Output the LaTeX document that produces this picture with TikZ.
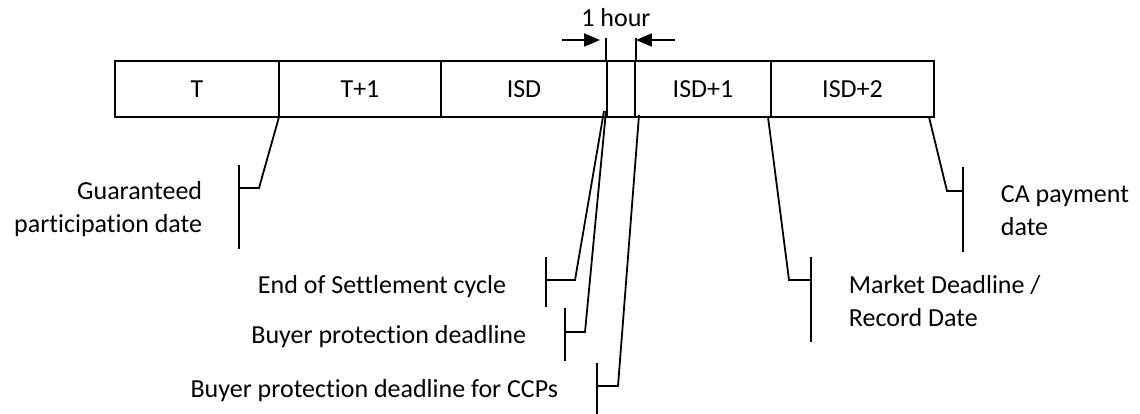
\documentclass[tikz,border=0pt]{standalone}
\usepackage{fontspec}
\setmainfont{Carlito}[Ligatures={NoCommon}]
\usetikzlibrary{arrows.meta}
\begin{document}
\begin{tikzpicture}[x=1pt,y=-1pt,
  line width=1.8pt,
  every node/.style={font=\fontsize{26}{33}\selectfont},
  cell/.style={draw, rectangle, minimum height=56pt, inner sep=0pt, text height=16.7pt, text depth=0pt},
  lbl/.style={inner sep=0pt},
  harrow/.style={-{Triangle[length=16pt,width=13pt]}}
]
\useasboundingbox (0,0) rectangle (1140,414);
% timeline cells
\node[cell, minimum width=164pt] (t)    at (197,89)   {T};
\node[cell, minimum width=162pt] (t1)   at (360,89)   {T+1};
\node[cell, minimum width=166pt] (isd)  at (524,89)   {ISD};
\node[cell, minimum width=28pt]  (gap)  at (621,89)   {};
\node[cell, minimum width=136pt] (isd1) at (703,89)   {ISD+1};
\node[cell, minimum width=163pt] (isd2) at (852.5,89) {ISD+2};
% one hour marker
\draw (gap.north west) -- ++(0,-22) coordinate (gwt);
\draw (gap.north east) -- ++(0,-22) coordinate (get);
\node[lbl, anchor=base] (hour) at (616,27) {1 hour};
\coordinate (al) at (562,40);
\coordinate (ar) at (675,40);
\draw[harrow] (al) -- ([xshift=-6pt]gap.north west |- al);
\draw[harrow] (ar) -- (gap.north east |- ar);
% leader coordinates
\coordinate (g0) at (279,117); \coordinate (g1) at (259,188); \coordinate (g2) at (239,188);
\coordinate (gt) at (239,165); \coordinate (gb) at (239,249);
\coordinate (e0) at (604,111); \coordinate (e1) at (575,280); \coordinate (e2) at (546,280);
\coordinate (et) at (546,257); \coordinate (eb) at (546,307);
\coordinate (b0) at (606,111); \coordinate (b1) at (585,332); \coordinate (b2) at (565,332);
\coordinate (bt) at (565,308); \coordinate (bb) at (565,361);
\coordinate (c0) at (639,115); \coordinate (c1) at (618,386); \coordinate (c2) at (597,386);
\coordinate (ct) at (597,363); \coordinate (cb) at (597,414);
\coordinate (m0) at (768,117); \coordinate (m1) at (789,280); \coordinate (m2) at (811,280);
\coordinate (mt) at (811,257); \coordinate (mb) at (811,342);
\coordinate (p0) at (929,117); \coordinate (p1) at (947,191); \coordinate (p2) at (963,191);
\coordinate (pt) at (963,167); \coordinate (pb) at (963,252);
% leaders and brackets
\draw (g0) -- (g1) -- (g2); \draw (gt) -- (gb);
\draw (e0) -- (e1) -- (e2); \draw (et) -- (eb);
\draw (b0) -- (b1) -- (b2); \draw (bt) -- (bb);
\draw (c0) -- (c1) -- (c2); \draw (ct) -- (cb);
\draw (m0) -- (m1) -- (m2); \draw (mt) -- (mb);
\draw (p0) -- (p1) -- (p2); \draw (pt) -- (pb);
% labels
\node[lbl, align=right, anchor=east] (lg) at (203,209.9) {\strut Guaranteed\\\strut participation date};
\node[lbl, anchor=east] (le) at (507,286.4) {\strut End of Settlement cycle};
\node[lbl, anchor=east] (lb) at (527,336.4) {\strut Buyer protection deadline};
\node[lbl, anchor=east] (lc) at (559,390.4) {\strut Buyer protection deadline for CCPs};
\node[lbl, align=left, anchor=west] (lm) at (848,302.9) {\strut Market Deadline /\\\strut Record Date};
\node[lbl, align=left, anchor=west] (lp) at (1000,212.9) {\strut CA payment\\\strut date};
\end{tikzpicture}
\end{document}
